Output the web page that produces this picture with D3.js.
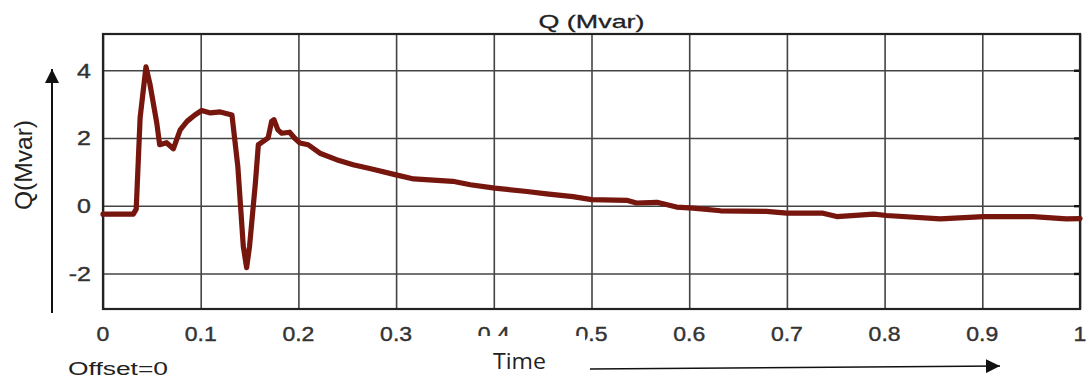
<!DOCTYPE html>
<html>
<head>
<meta charset="utf-8">
<script src="https://cdn.jsdelivr.net/npm/d3@7"></script>
<style>
  body { margin: 0; background: #fff; }
  text { font-family: "Liberation Sans", Arial, sans-serif; }
</style>
</head>
<body>
<svg id="chart"></svg>
<script>
// Q (Mvar) trace
const time = [0, 0.031, 0.034, 0.038, 0.044, 0.048, 0.055, 0.058, 0.065, 0.072,
  0.079, 0.086, 0.094, 0.101, 0.11, 0.12, 0.132, 0.138, 0.1436, 0.147,
  0.15, 0.156, 0.159, 0.164, 0.169, 0.1726, 0.175, 0.179, 0.183, 0.191,
  0.196, 0.2016, 0.21, 0.222, 0.239, 0.256, 0.273, 0.3, 0.318, 0.358,
  0.376, 0.401, 0.434, 0.454, 0.481, 0.5, 0.536, 0.546, 0.567, 0.587,
  0.604, 0.632, 0.679, 0.7, 0.737, 0.751, 0.789, 0.802, 0.857, 0.901,
  0.952, 0.986, 1.0];
const qValues = [-0.25, -0.25, -0.1, 2.6, 4.1, 3.6, 2.45, 1.8, 1.86, 1.68,
  2.24, 2.49, 2.68, 2.81, 2.74, 2.77, 2.68, 1.16, -1.2, -1.83,
  -1.2, 0.68, 1.8, 1.9, 2.0, 2.49, 2.54, 2.24, 2.14, 2.17,
  2.0, 1.85, 1.8, 1.55, 1.36, 1.21, 1.1, 0.91, 0.79, 0.72,
  0.62, 0.52, 0.42, 0.35, 0.27, 0.18, 0.16, 0.08, 0.1, -0.04,
  -0.07, -0.15, -0.17, -0.22, -0.22, -0.32, -0.25, -0.29, -0.39, -0.32,
  -0.32, -0.39, -0.38];
const xTicks = [0, 0.1, 0.2, 0.3, 0.4, 0.5, 0.6, 0.7, 0.8, 0.9, 1];
const xTickLabels = ["0", "0.1", "0.2", "0.3", "0.4", "0.5", "0.6", "0.7", "0.8", "0.9", "1"];
const yTicks = [-2, 0, 2, 4];
const yTickLabels = ["-2", "0", "2", "4"];

const W = 1087, H = 381;
const plot = {left: 103, right: 1080, top: 34, bottom: 309};

const svg = d3.select("#chart").attr("width", W).attr("height", H);

const x = d3.scaleLinear().domain([0, 1]).range([plot.left, plot.right]);
const y = d3.scaleLinear().domain([-3.05, 5.07]).range([plot.bottom, plot.top]);

// stretch text a little wider, the picture was scaled horizontally
function stretch(sel, f) {
  sel.each(function () {
    const len = this.getComputedTextLength();
    d3.select(this).attr("textLength", len * f).attr("lengthAdjust", "spacingAndGlyphs");
  });
}

// grid
svg.append("g")
  .attr("transform", "translate(0," + plot.bottom + ")")
  .call(d3.axisBottom(x).tickValues(xTicks).tickSize(-(plot.bottom - plot.top)).tickFormat(""))
  .call(g => g.select(".domain").remove())
  .selectAll("line").attr("stroke", "#444").attr("stroke-width", 1.6);

svg.append("g")
  .attr("transform", "translate(" + plot.left + ",0)")
  .call(d3.axisLeft(y).tickValues(yTicks).tickSize(-(plot.right - plot.left)).tickFormat(""))
  .call(g => g.select(".domain").remove())
  .selectAll("line").attr("stroke", "#444").attr("stroke-width", 1.6);

// inner ticks on the right edge
svg.append("g")
  .attr("transform", "translate(" + plot.right + ",0)")
  .call(d3.axisRight(y).tickValues(yTicks).tickSize(-6).tickFormat(""))
  .call(g => g.select(".domain").remove())
  .selectAll("line").attr("stroke", "#111").attr("stroke-width", 2.4);

// frame
svg.append("rect")
  .attr("x", plot.left).attr("y", plot.top)
  .attr("width", plot.right - plot.left).attr("height", plot.bottom - plot.top)
  .attr("fill", "none").attr("stroke", "#222").attr("stroke-width", 2.2);

// curve
const defs = svg.append("defs");
defs.append("filter").attr("id", "soft")
  .append("feGaussianBlur").attr("stdDeviation", 0.6);

const line = d3.line()
  .x((d, i) => x(time[i]))
  .y(d => y(d))
  .curve(d3.curveLinear);

svg.append("path")
  .datum(qValues)
  .attr("fill", "none")
  .attr("stroke", "#761410")
  .attr("stroke-width", 5.2)
  .attr("stroke-linejoin", "round")
  .attr("stroke-linecap", "round")
  .attr("filter", "url(#soft)")
  .attr("d", line);

// tick labels
svg.append("g").selectAll("text")
  .data(xTicks)
  .join("text")
  .attr("x", d => x(d))
  .attr("y", 341)
  .attr("text-anchor", "middle")
  .attr("font-size", 20)
  .attr("fill", "#333")
  .attr("stroke", "#333").attr("stroke-width", 0.4)
  .text((d, i) => xTickLabels[i])
  .call(stretch, 1.15);

svg.append("g").selectAll("text")
  .data(yTicks)
  .join("text")
  .attr("x", 91)
  .attr("y", d => y(d) + 7.5)
  .attr("text-anchor", "end")
  .attr("font-size", 20)
  .attr("fill", "#333")
  .attr("stroke", "#333").attr("stroke-width", 0.4)
  .text((d, i) => yTickLabels[i])
  .call(stretch, 1.25);

// white box that hides the lower part of "0.4"
svg.append("rect")
  .attr("x", 465).attr("y", 336).attr("width", 120).attr("height", 14)
  .attr("fill", "#fff");

// title
svg.append("text")
  .attr("x", (plot.left + plot.right) / 2)
  .attr("y", 28)
  .attr("text-anchor", "middle")
  .attr("font-size", 19)
  .attr("fill", "#222")
  .attr("stroke", "#222").attr("stroke-width", 0.3)
  .attr("textLength", 106).attr("lengthAdjust", "spacingAndGlyphs")
  .text("Q (Mvar)");

// y label with arrow
svg.append("text")
  .attr("transform", "translate(32,165) rotate(-90)")
  .attr("text-anchor", "middle")
  .attr("font-size", 23)
  .attr("fill", "#222")
  .attr("textLength", 90).attr("lengthAdjust", "spacingAndGlyphs")
  .text("Q(Mvar)");

defs.append("marker")
  .attr("id", "arrow")
  .attr("viewBox", "0 0 10 10")
  .attr("refX", 10).attr("refY", 5)
  .attr("markerWidth", 14).attr("markerHeight", 14)
  .attr("markerUnits", "userSpaceOnUse")
  .attr("orient", "auto")
  .append("path").attr("d", "M0,0 L10,5 L0,10 Z").attr("fill", "#111");

svg.append("line")
  .attr("x1", 52).attr("y1", 313).attr("x2", 52).attr("y2", 69)
  .attr("stroke", "#111").attr("stroke-width", 2)
  .attr("marker-end", "url(#arrow)");

// bottom annotations
svg.append("text")
  .attr("x", 68).attr("y", 375)
  .attr("font-size", 18)
  .attr("fill", "#222")
  .attr("textLength", 100).attr("lengthAdjust", "spacingAndGlyphs")
  .text("Offset=0");

svg.append("text")
  .attr("x", 493).attr("y", 369)
  .attr("font-size", 21)
  .attr("fill", "#222")
  .style("font-family", "'Open Sans', sans-serif")
  .attr("textLength", 53).attr("lengthAdjust", "spacingAndGlyphs")
  .text("Time");

svg.append("line")
  .attr("x1", 590).attr("y1", 369).attr("x2", 1000).attr("y2", 366)
  .attr("stroke", "#111").attr("stroke-width", 1.6)
  .attr("marker-end", "url(#arrow)");
</script>
</body>
</html>
